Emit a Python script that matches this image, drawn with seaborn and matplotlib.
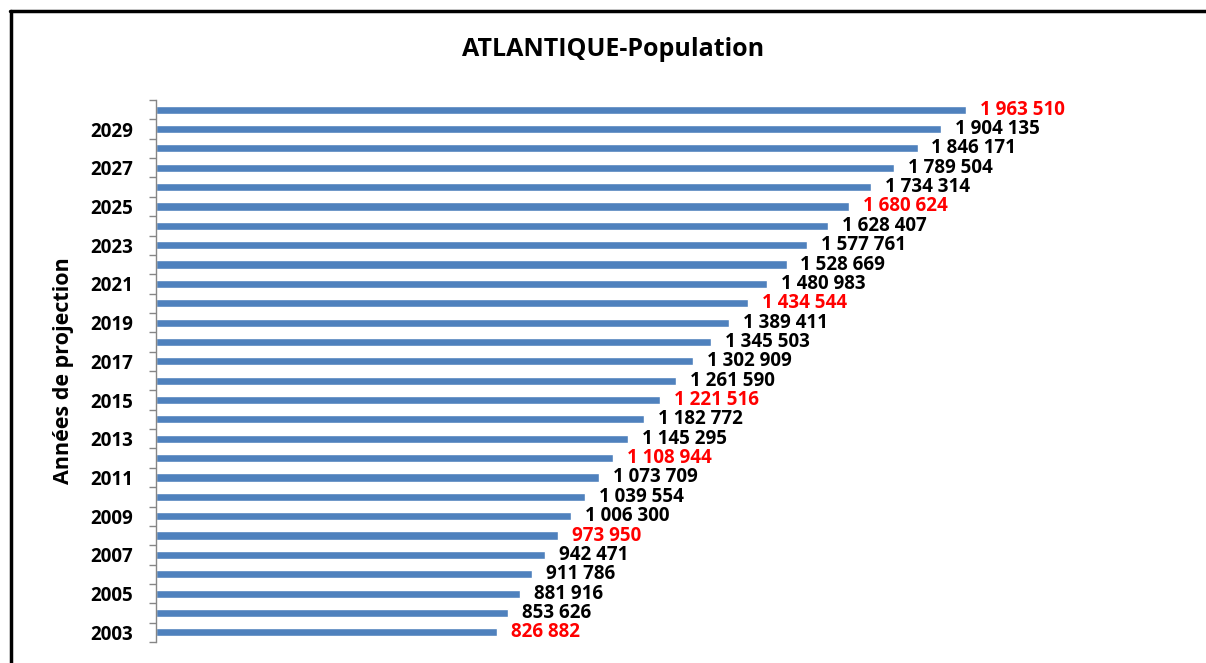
import matplotlib
matplotlib.use("Agg")
import matplotlib.pyplot as plt
import seaborn as sns
import pandas as pd
import numpy as np
from matplotlib.lines import Line2D

years = list(range(2003, 2031))
population = [826882, 853626, 881916, 911786, 942471, 973950, 1006300, 1039554,
              1073709, 1108944, 1145295, 1182772, 1221516, 1261590, 1302909,
              1345503, 1389411, 1434544, 1480983, 1528669, 1577761, 1628407,
              1680624, 1734314, 1789504, 1846171, 1904135, 1963510]
highlight_years = [2003, 2008, 2012, 2015, 2020, 2025, 2030]
title = "ATLANTIQUE-Population"
ylabel = "Années de projection"

sns.set_theme(style="white")
plt.rcParams['font.family'] = ['Open Sans', 'DejaVu Sans']

df = pd.DataFrame({"year": [str(y) for y in years], "pop": population})
order = [str(y) for y in years[::-1]]

fig = plt.figure(figsize=(12.06, 6.63), dpi=100)
ax = fig.add_axes([156/1206, 1-642/663, (1146-156)/1206, (642-100)/663])

sns.barplot(data=df, x="pop", y="year", order=order, color="#4F81BD",
            saturation=1, width=0.42, ax=ax, orient="h")

ax.set_xlim(0, 2400000)
ax.set_ylim(len(order) - 0.5, -0.5)

def fmt(v):
    return f"{v:,}".replace(",", " ")

cont = ax.containers[0]
labels = [fmt(population[years.index(int(y))]) for y in order]
texts = ax.bar_label(cont, labels=labels, padding=10, fontsize=13.5, fontweight="bold")
for t, y in zip(texts, order):
    t.set_color("#FF0000" if int(y) in highlight_years else "black")

# y ticks: labels for odd years, tick marks at category boundaries
pos = [i for i, y in enumerate(order) if int(y) % 2 == 1]
ax.set_yticks(pos)
ax.set_yticklabels([order[i] for i in pos], fontsize=13.5, fontweight="bold", color="black")
ax.set_yticks(np.arange(-0.5, len(order), 1.0), minor=True)
ax.tick_params(axis="y", which="major", length=0, pad=16.5, colors="black")
ax.tick_params(axis="y", which="minor", length=5, width=1, color="#868686", direction="out", left=True)

ax.set_xticks([])
ax.set_xlabel("")
ax.set_ylabel(ylabel, fontsize=15.5, fontweight="bold", labelpad=12, color="black")
for s in ["top", "right", "bottom"]:
    ax.spines[s].set_visible(False)
ax.spines["left"].set_color("#868686")
ax.spines["left"].set_linewidth(1)

fig.text(613/1206, 1-50/663, title, ha="center", va="center", fontsize=18, fontweight="bold", color="black")

# figure border (left and top)
fig.add_artist(Line2D([11/1206, 11/1206], [0, 1-11/663], transform=fig.transFigure, color="black", linewidth=2.5))
fig.add_artist(Line2D([10/1206, 1], [1-10.5/663, 1-10.5/663], transform=fig.transFigure, color="black", linewidth=2.5))

fig.savefig("out.png", dpi=100)
